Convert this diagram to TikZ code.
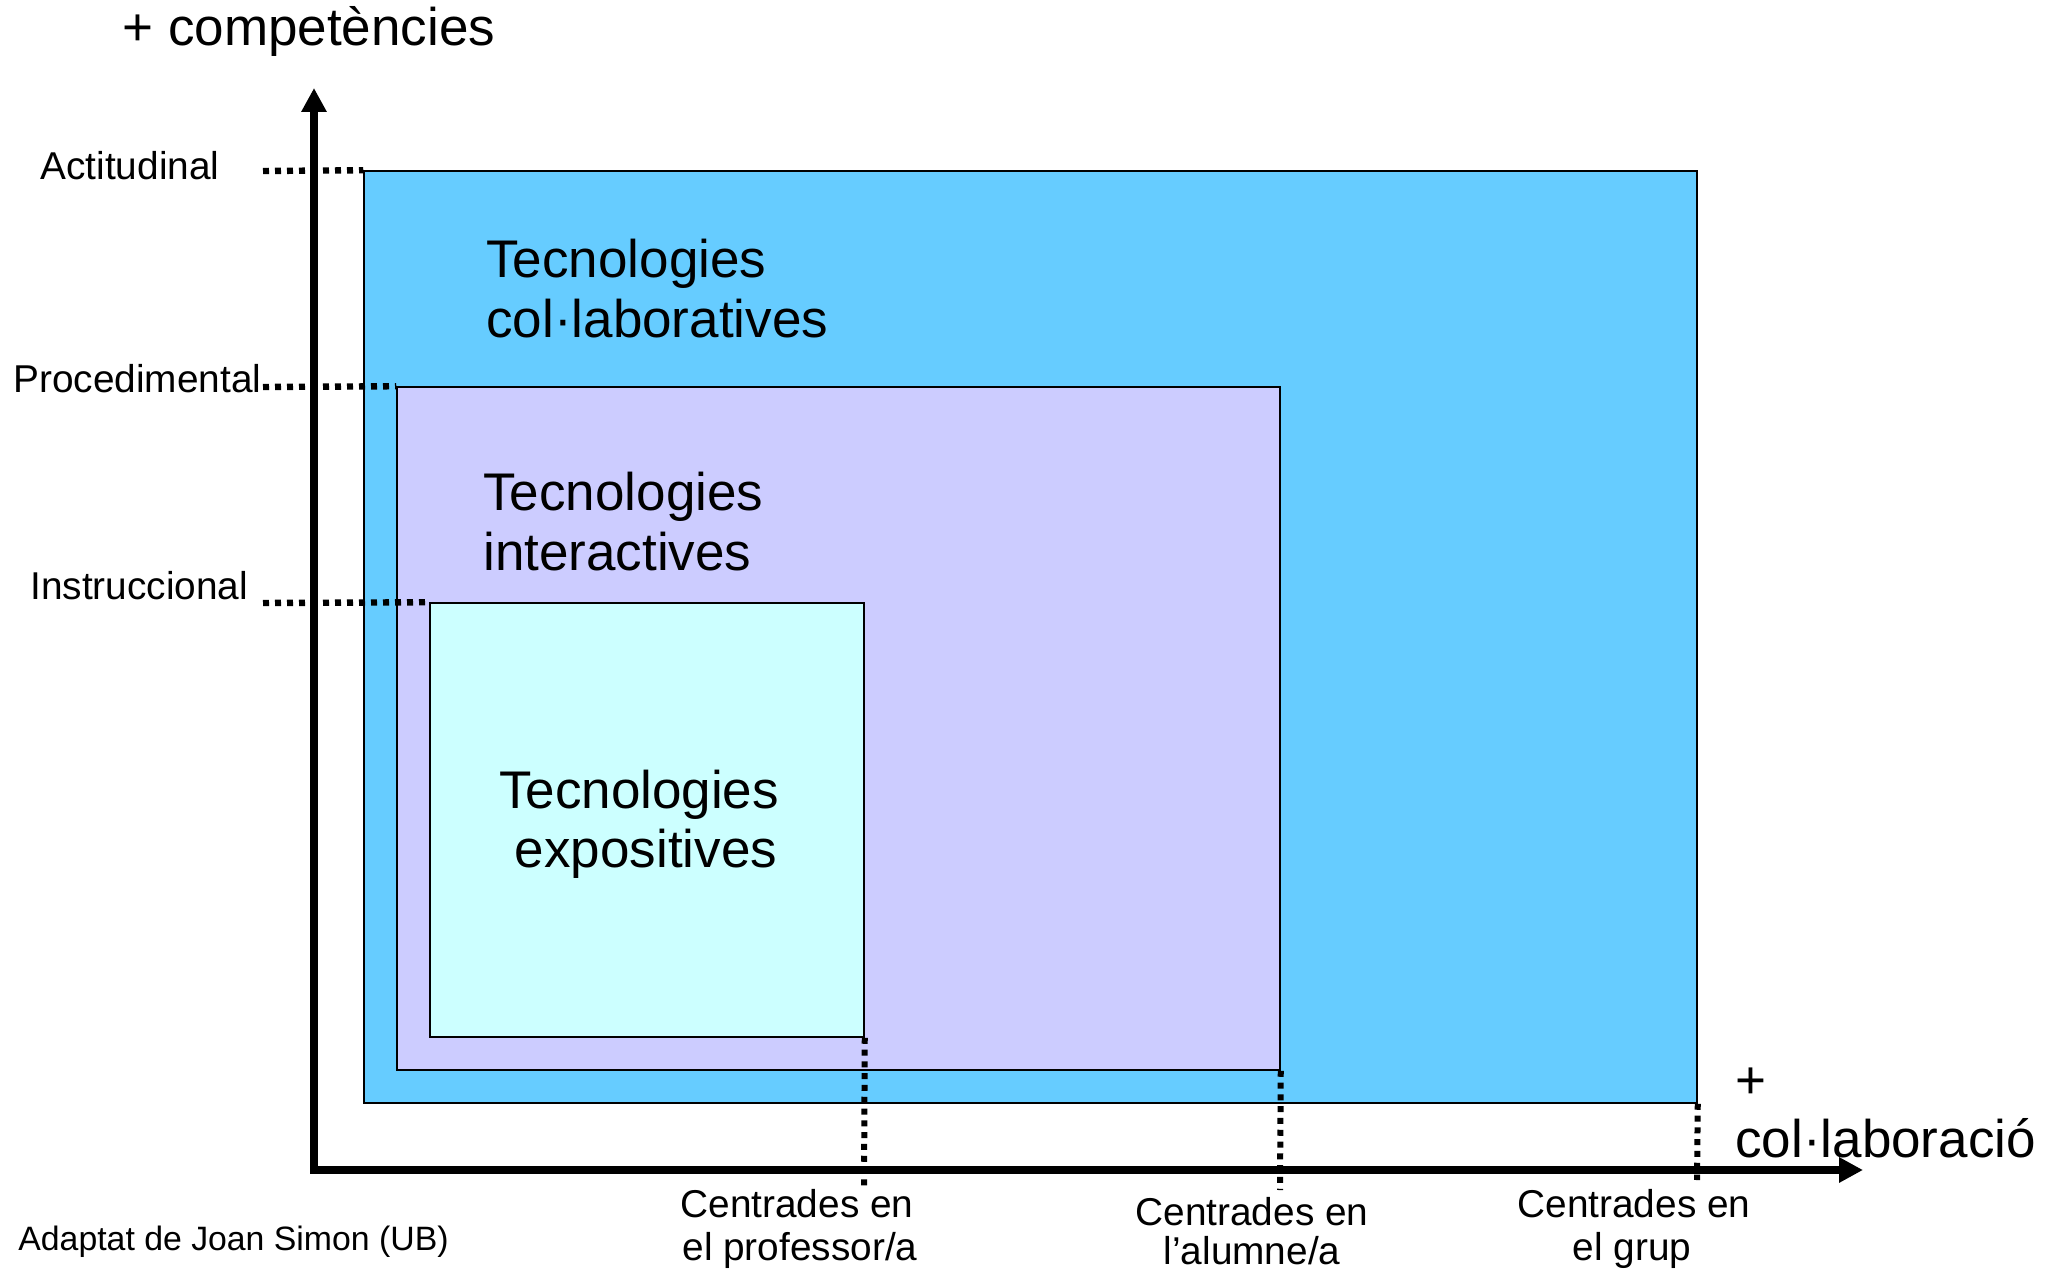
\documentclass[tikz,border=0pt]{standalone}
\usepackage{fontspec}
\setmainfont{Liberation Sans}
\usetikzlibrary{arrows.meta,fit}
\definecolor{outerblue}{HTML}{66CCFF}
\definecolor{midlav}{HTML}{CCCCFF}
\definecolor{innercyan}{HTML}{CCFFFF}
\tikzset{
  box/.style={draw=black, line width=0.75pt, inner sep=0pt},
  big/.style={inner sep=0pt, font=\fontsize{26.5}{30}\selectfont},
  lab/.style={inner sep=0pt, font=\fontsize{19.4}{22}\selectfont},
  note/.style={inner sep=0pt, font=\fontsize{16.9}{20}\selectfont},
  hdots/.style={line width=3.2pt, dash pattern=on 3pt off 3pt},
  vdots/.style={line width=3pt, dash pattern=on 3pt off 2.9pt},
  axisline/.style={line width=3.6pt, line join=miter,
     {Triangle[length=12pt,width=12pt]}-{Triangle[length=12pt,width=12pt]}}
}
\begin{document}
\begin{tikzpicture}[x=0.5pt,y=-0.5pt]
\useasboundingbox (0,0) rectangle (2054,1272);

% rectangles
\node[box, fill=outerblue, fit={(364,171) (1697,1103)}] (outer) {};
\node[box, fill=midlav, fit={(397,387) (1280,1070)}] (mid) {};
\node[box, fill=innercyan, fit={(430,603) (864,1037)}] (inner) {};

% coordinates
\coordinate (a1) at (263,171);
\coordinate (a2) at (263,387);
\coordinate (a3) at (263,603);
\coordinate (b1) at (864,1188);
\coordinate (b2) at (1280,1190);
\coordinate (b3) at (1697,1180);
\coordinate (ytip) at (314,88);
\coordinate (corner) at (314,1170);
\coordinate (xtip) at (1863,1170);

% dotted guides
\draw[hdots] (a1) -- (outer.north west);
\draw[hdots] (a2) -- (mid.north west);
\draw[hdots] (a3) -- (inner.north west);

% axes
\draw[axisline] (ytip) -- (corner) -- (xtip);

\draw[vdots] (inner.south east) -- (b1);
\draw[vdots] (mid.south east) -- (b2);
\draw[vdots] (outer.south east) -- (b3);

% texts
\node[big, anchor=base west] (ytitle) at (122,46) {+ competències};
\node[lab, anchor=base west] (lact) at (40,180) {Actitudinal};
\node[lab, anchor=base west] (lproc) at (13,393) {Procedimental};
\node[lab, anchor=base west] (linst) at (30,599) {Instruccional};

\node[big, anchor=base west] (t1a) at (486,278) {Tecnologies};
\node[big, anchor=base west] (t1b) at (486,338) {col·laboratives};
\node[big, anchor=base west] (t2a) at (483,510) {Tecnologies};
\node[big, anchor=base west] (t2b) at (483,570) {interactives};
\node[big, anchor=base] (t3a) at (639,808) {Tecnologies};
\node[big, anchor=base] (t3b) at (646,867) {expositives};

\node[big, anchor=base west] (xplus) at (1735,1098) {+};
\node[big, anchor=base west] (xtitle) at (1735,1157) {col·laboració};

\node[lab, anchor=base] (c1a) at (797,1217) {Centrades en};
\node[lab, anchor=base] (c1b) at (800,1260) {el professor/a};
\node[lab, anchor=base] (c2a) at (1252,1225) {Centrades en};
\node[lab, anchor=base] (c2b) at (1252,1264) {l’alumne/a};
\node[lab, anchor=base] (c3a) at (1634,1217) {Centrades en};
\node[lab, anchor=base] (c3b) at (1632,1260) {el grup};

\node[note, anchor=base west] (src) at (18,1250) {Adaptat de Joan Simon (UB)};
\end{tikzpicture}
\end{document}
